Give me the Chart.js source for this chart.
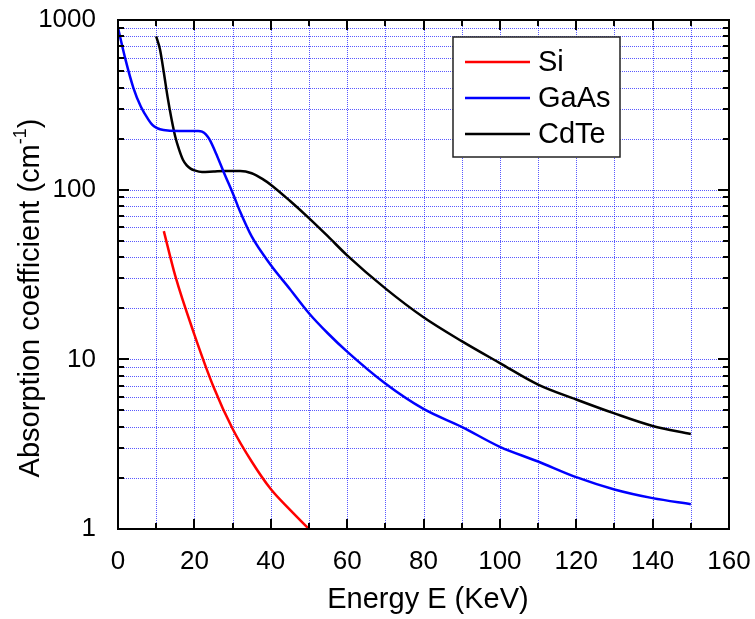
<!DOCTYPE html>
<html>
<head>
<meta charset="utf-8">
<script src="https://cdn.jsdelivr.net/npm/chart.js@4.4.1/dist/chart.umd.min.js"></script>
<style>
  html, body { margin: 0; padding: 0; background: #fff; }
  #wrap { width: 755px; height: 619px; }
</style>
</head>
<body>
<div id="wrap"><canvas id="absChart" width="755" height="619"></canvas></div>
<script>
// energies (KeV) and absorption coefficients (cm^-1)
const siE = [12, 15, 20, 25, 30, 35, 40, 45, 50];
const siVal = [57, 31, 14, 6.9, 3.9, 2.5, 1.72, 1.3, 1.0];

const gaasE = [0, 2, 4, 6, 8, 9, 10, 11, 13, 16, 20, 21, 22, 23, 24, 26, 28, 30, 32, 35, 40, 45, 50, 55, 60, 70, 80, 90, 100, 110, 120, 130, 140, 150];
const gaasVal = [900, 580, 400, 308, 258, 241, 232, 227, 223, 222, 222, 222, 220, 212, 197, 157, 122, 96, 74, 53, 36, 26, 18.7, 14.2, 11.1, 7.2, 5.1, 4.0, 3.05, 2.5, 2.02, 1.71, 1.52, 1.40];

const cdteE = [10, 11, 12, 13, 14, 15, 16, 17, 18, 19, 20, 22, 25, 28, 32, 35, 38, 40, 45, 50, 55, 60, 70, 80, 90, 100, 110, 120, 130, 140, 150];
const cdteVal = [800, 670, 490, 350, 262, 205, 172, 150, 139, 133, 130, 127, 128, 129, 129, 125, 115, 107, 86, 68, 53, 41, 26.2, 17.7, 12.8, 9.5, 7.1, 5.8, 4.8, 4.05, 3.63];

// axis ticks
const xTicks = [0, 10, 20, 30, 40, 50, 60, 70, 80, 90, 100, 110, 120, 130, 140, 150, 160];
const yDecades = [1, 10, 100, 1000];

const FONT = "Liberation Sans, Arial, sans-serif";
const GRID = "rgba(0, 0, 255, 0.65)";

function toPoints(xs, ys) {
  return xs.map((v, i) => ({ x: v, y: ys[i] }));
}

// dotted blue grid, drawn under the curves
const gridPlugin = {
  id: "gridPlugin",
  beforeDatasetsDraw(chart) {
    const ctx = chart.ctx;
    const a = chart.chartArea;
    const x = chart.scales.x;
    const y = chart.scales.y;
    ctx.save();
    ctx.strokeStyle = GRID;
    ctx.lineWidth = 1;
    ctx.setLineDash([1, 1]);
    ctx.beginPath();
    xTicks.forEach((v) => {
      const px = Math.round(x.getPixelForValue(v)) + 0.5;
      ctx.moveTo(px, a.top); ctx.lineTo(px, a.bottom);
    });
    y.ticks.forEach((t) => {
      const py = Math.round(y.getPixelForValue(t.value)) + 0.5;
      ctx.moveTo(a.left, py); ctx.lineTo(a.right, py);
    });
    ctx.stroke();
    ctx.restore();
  }
};

// frame, inside ticks, legend and axis titles
const framePlugin = {
  id: "framePlugin",
  afterDraw(chart) {
    const ctx = chart.ctx;
    const a = chart.chartArea;
    const x = chart.scales.x;
    const y = chart.scales.y;
    ctx.save();
    ctx.strokeStyle = "#000";
    ctx.lineWidth = 2;
    ctx.beginPath();
    xTicks.forEach((v) => {
      const px = Math.round(x.getPixelForValue(v));
      const len = v % 20 === 0 ? 10 : 6;
      ctx.moveTo(px, a.bottom); ctx.lineTo(px, a.bottom - len);
      ctx.moveTo(px, a.top); ctx.lineTo(px, a.top + len);
    });
    y.ticks.forEach((t) => {
      const py = Math.round(y.getPixelForValue(t.value));
      const len = yDecades.includes(t.value) ? 11 : 6;
      ctx.moveTo(a.left, py); ctx.lineTo(a.left + len, py);
      ctx.moveTo(a.right, py); ctx.lineTo(a.right - len, py);
    });
    ctx.stroke();
    ctx.strokeRect(a.left, a.top, a.right - a.left, a.bottom - a.top);

    // legend box
    const lx = 453, ly = 37, lw = 167, lh = 120;
    ctx.fillStyle = "#fff";
    ctx.fillRect(lx, ly, lw, lh);
    ctx.lineWidth = 1.5;
    ctx.strokeStyle = "#222";
    ctx.strokeRect(lx, ly, lw, lh);
    ctx.font = "29px " + FONT;
    ctx.textBaseline = "middle";
    ctx.textAlign = "left";
    chart.data.datasets.forEach((ds, i) => {
      const rowY = ly + 25 + i * 36;
      ctx.strokeStyle = ds.borderColor;
      ctx.lineWidth = 2.5;
      ctx.beginPath();
      ctx.moveTo(lx + 12, rowY); ctx.lineTo(lx + 77, rowY);
      ctx.stroke();
      ctx.fillStyle = "#000";
      ctx.fillText(ds.label, lx + 85, rowY + 1);
    });

    // x title
    ctx.fillStyle = "#000";
    ctx.textAlign = "center";
    ctx.textBaseline = "middle";
    ctx.font = "29px " + FONT;
    ctx.fillText("Energy E (KeV)", 428, 600);

    // y title with superscript
    ctx.save();
    ctx.translate(31, 298);
    ctx.rotate(-Math.PI / 2);
    const main = "Absorption coefficient (cm";
    const sup = "-1";
    ctx.font = "29px " + FONT;
    const w1 = ctx.measureText(main).width;
    ctx.font = "18px " + FONT;
    const w2 = ctx.measureText(sup).width;
    ctx.font = "29px " + FONT;
    const w3 = ctx.measureText(")").width;
    let start = -(w1 + w2 + w3) / 2;
    ctx.textAlign = "left";
    ctx.fillText(main, start, 0);
    ctx.font = "18px " + FONT;
    ctx.fillText(sup, start + w1, -10);
    ctx.font = "29px " + FONT;
    ctx.fillText(")", start + w1 + w2, 0);
    ctx.restore();

    ctx.restore();
  }
};

const ctx = document.getElementById("absChart").getContext("2d");

new Chart(ctx, {
  type: "scatter",
  data: {
    datasets: [
      { label: "Si", data: toPoints(siE, siVal), borderColor: "#ff0000" },
      { label: "GaAs", data: toPoints(gaasE, gaasVal), borderColor: "#0000ff" },
      { label: "CdTe", data: toPoints(cdteE, cdteVal), borderColor: "#000000" },
    ],
  },
  options: {
    responsive: false,
    animation: false,
    showLine: true,
    layout: { padding: { left: 0, top: 20, right: 26, bottom: 0 } },
    elements: {
      point: { radius: 0, hoverRadius: 0 },
      line: { borderWidth: 2.5, cubicInterpolationMode: "monotone", fill: false },
    },
    plugins: {
      legend: { display: false },
      tooltip: { enabled: false },
    },
    scales: {
      x: {
        type: "linear",
        min: 0,
        max: 160,
        afterBuildTicks: (scale) => {
          scale.ticks = xTicks.map((v) => ({ value: v }));
        },
        afterFit: (scale) => {
          scale.height = 90;
          scale.paddingLeft = 0;
          scale.paddingRight = 0;
        },
        ticks: {
          color: "#000",
          font: { family: FONT, size: 26 },
          padding: 9,
          maxRotation: 0,
          autoSkip: false,
          callback: (v) => (v % 20 === 0 ? String(v) : ""),
        },
        grid: { display: false },
        border: { display: false },
      },
      y: {
        type: "logarithmic",
        min: 1,
        max: 1000,
        afterBuildTicks: (scale) => {
          const t = [];
          yDecades.forEach((d) => {
            for (let k = 1; k <= 9; k++) {
              if (d * k <= 1000) t.push({ value: d * k });
            }
          });
          scale.ticks = t;
        },
        afterFit: (scale) => {
          scale.width = 118;
          scale.paddingTop = 0;
          scale.paddingBottom = 0;
        },
        ticks: {
          color: "#000",
          font: { family: FONT, size: 26 },
          padding: 14,
          autoSkip: false,
          callback: (v) => (yDecades.includes(v) ? String(v) : ""),
        },
        grid: { display: false },
        border: { display: false },
      },
    },
  },
  plugins: [gridPlugin, framePlugin],
});
</script>
</body>
</html>
